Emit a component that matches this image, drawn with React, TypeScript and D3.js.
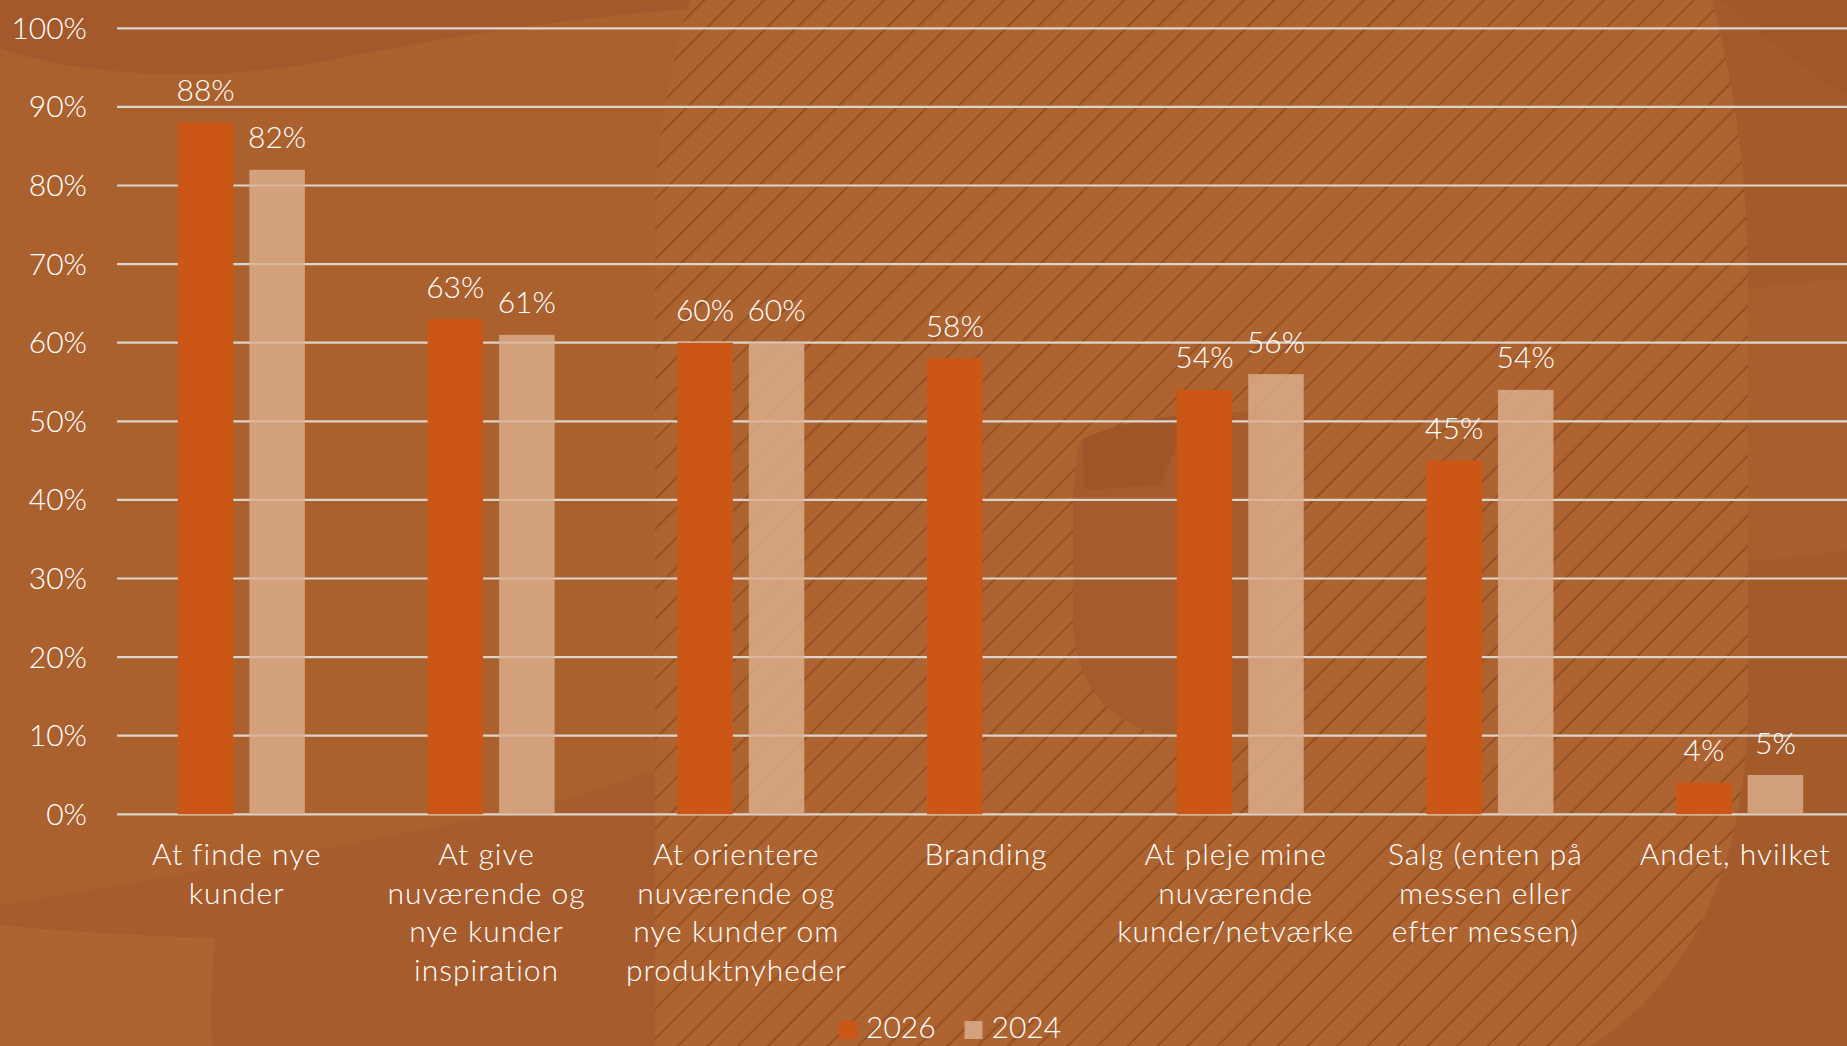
import React from "react";
import * as d3 from "d3";

const W = 1847;
const H = 1046;

const categories = [
  "At finde nye\nkunder",
  "At give\nnuværende og\nnye kunder\ninspiration",
  "At orientere\nnuværende og\nnye kunder om\nproduktnyheder",
  "Branding",
  "At pleje mine\nnuværende\nkunder/netværke",
  "Salg (enten på\nmessen eller\nefter messen)",
  "Andet, hvilket",
];
const seriesNames = ["2026", "2024"];
const values2026: (number | null)[] = [88, 63, 60, 58, 54, 45, 4];
const values2024: (number | null)[] = [82, 61, 60, null, 56, 54, 5];
const yTicks = [0, 10, 20, 30, 40, 50, 60, 70, 80, 90, 100];

const COLORS: Record<string, string> = { "2026": "#CC5616", "2024": "#DCAE8E" };
const OPAC: Record<string, number> = { "2026": 1, "2024": 0.82 };
const FONT = "Lato, 'Open Sans', sans-serif";

export default function App() {
  const x = d3.scaleBand<string>().domain(categories).range([112, 1860]).paddingInner(0).paddingOuter(0);
  const xs = d3.scaleBand<string>().domain(seriesNames).range([-59, 68]).paddingInner(0.224).paddingOuter(0);
  const y = d3.scaleLinear().domain([0, 100]).range([814.3, 28.3]);
  const seriesValues: Record<string, (number | null)[]> = { "2026": values2026, "2024": values2024 };
  const gridX0 = 117;
  const hatchD =
    "M690,0 L1712,0 C1735,90 1748,170 1748,300 L1748,700 C1748,880 1680,990 1590,1046 L655,1046 L655,190 C660,110 675,50 690,0 Z";

  return (
    <svg
      width={W}
      height={H}
      viewBox={`0 0 ${W} ${H}`}
      style={{ position: "absolute", left: 0, top: 0, display: "block" }}
    >
      <defs>
        <pattern id="hatch" patternUnits="userSpaceOnUse" width={21.2} height={10} patternTransform="rotate(45)">
          <line x1={10.6} y1={0} x2={10.6} y2={10} stroke="#7E3E18" strokeOpacity={0.5} strokeWidth={2.2} />
        </pattern>
        <filter id="soft" x="-5%" y="-5%" width="110%" height="110%">
          <feGaussianBlur stdDeviation="0.6" />
        </filter>
      </defs>

      {/* background */}
      <rect x={0} y={0} width={W} height={H} fill="#A55C2C" />
      <path d="M0,0 L700,0 L700,1046 L0,1046 Z" fill="#AA612E" />
      {/* top-left dark band */}
      <path d="M0,0 L700,0 L700,8 C560,18 430,40 330,60 C240,78 140,78 60,64 C30,58 10,52 0,48 Z" fill="#A3592B" />
      {/* darker arc band lower left */}
      <path d="M0,905 C150,880 330,850 520,810 C600,792 660,770 700,750 L700,1046 L0,1046 Z" fill="#A65C2C" />
      {/* lighter bottom-left circle */}
      <path d="M0,925 C70,932 150,936 215,938 C212,975 210,1010 212,1046 L0,1046 Z" fill="#AD6430" />
      {/* right darker region */}
      <path d="M1700,0 L1847,0 L1847,1046 L1500,1046 Z" fill="#A45B2C" />
      <path d="M1720,0 L1847,0 L1847,95 C1800,70 1760,30 1720,0 Z" fill="#A0572A" />
      <path d="M1748,290 C1790,282 1830,280 1847,280 L1847,550 C1820,555 1785,560 1748,560 Z" fill="#A85F2E" />
      {/* hatched region */}
      <path d={hatchD} fill="#AE6430" />
      <path d={hatchD} fill="url(#hatch)" filter="url(#soft)" />
      {/* dark blob in hatched region */}
      <path d="M1082,440 C1110,425 1150,418 1190,415 L1270,410 L1270,735 L1180,735 C1120,735 1073,690 1073,620 L1073,520 C1073,480 1075,455 1082,440 Z" fill="#A55B2B" />
      <path d="M1082,440 C1110,425 1150,418 1190,415 L1160,485 L1085,490 Z" fill="#9E5628" />

      {/* gridlines */}
      <g>
        {yTicks.map((t) => (
          <line key={t} x1={gridX0} x2={W} y1={y(t)} y2={y(t)} stroke="#DCD5CE" strokeWidth={2.2} />
        ))}
      </g>

      {/* y tick labels */}
      <g fontFamily={FONT} fontWeight={300} fontSize={30} fill="#FFFFFF" textAnchor="end">
        {yTicks.map((t) => (
          <text key={t} x={87} y={y(t) + 10.5}>
            {`${t}%`}
          </text>
        ))}
      </g>

      {/* bars */}
      {seriesNames.map((s) => (
        <g key={s}>
          {categories.map((c, i) => {
            const v = seriesValues[s][i];
            if (v === null) return null;
            const bx = (x(c) as number) + x.bandwidth() / 2 + (xs(s) as number);
            return (
              <rect
                key={c}
                x={bx}
                y={y(v)}
                width={xs.bandwidth()}
                height={y(0) - y(v)}
                fill={COLORS[s]}
                fillOpacity={OPAC[s]}
              />
            );
          })}
        </g>
      ))}

      {/* value labels */}
      <g fontFamily={FONT} fontWeight={300} fontSize={30} fill="#FFFFFF" textAnchor="middle">
        {seriesNames.map((s) =>
          categories.map((c, i) => {
            const v = seriesValues[s][i];
            if (v === null) return null;
            const bx = (x(c) as number) + x.bandwidth() / 2 + (xs(s) as number) + xs.bandwidth() / 2;
            return (
              <text key={s + c} x={bx} y={y(v) - 21.5}>
                {`${v}%`}
              </text>
            );
          })
        )}
      </g>

      {/* x labels */}
      <g fontFamily={FONT} fontWeight={300} fontSize={30} fill="#FFFFFF" textAnchor="middle" letterSpacing={1}>
        {categories.map((c) => {
          const cx = (x(c) as number) + x.bandwidth() / 2;
          return (
            <text key={c} x={cx} y={865}>
              {c.split("\n").map((ln, k) => (
                <tspan key={k} x={cx} y={865 + k * 38.7}>
                  {ln}
                </tspan>
              ))}
            </text>
          );
        })}
      </g>

      {/* legend */}
      <g fontFamily={FONT} fontWeight={300} fontSize={30} fill="#FFFFFF">
        {seriesNames.map((s, i) => {
          const lx = 839 + i * 125.5;
          return (
            <g key={s}>
              <rect x={lx} y={1021} width={18} height={18} fill={COLORS[s]} fillOpacity={OPAC[s]} />
              <text x={lx + 27} y={1038}>
                {s}
              </text>
            </g>
          );
        })}
      </g>
    </svg>
  );
}
